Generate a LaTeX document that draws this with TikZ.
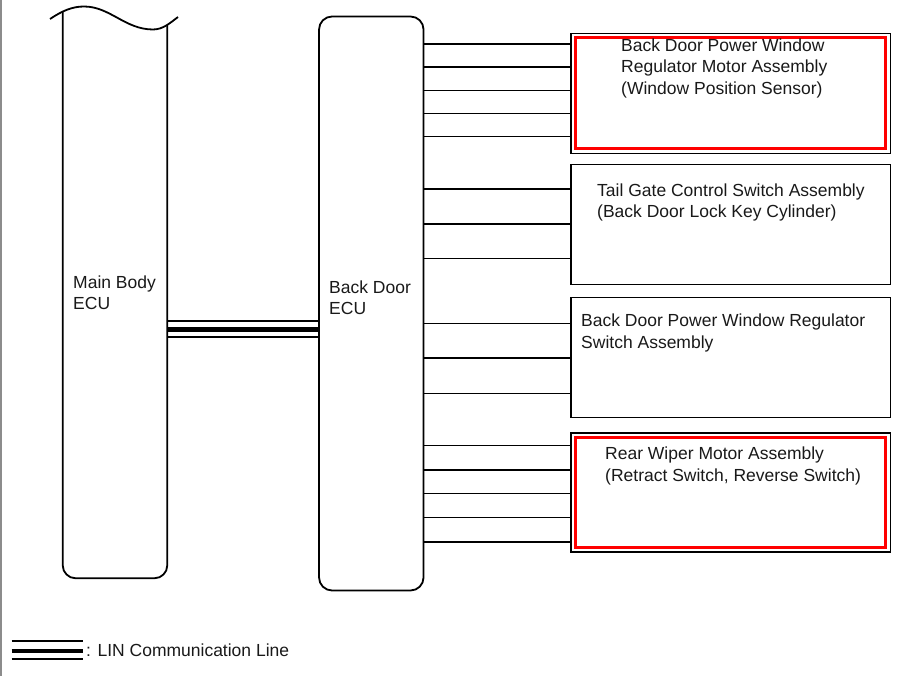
\documentclass[tikz,border=0pt]{standalone}
\usepackage{fontspec}
\setmainfont{Liberation Sans}
\begin{document}
\begin{tikzpicture}[x=1pt, y=-1pt,
    eculine/.style={line width=1.8pt, rounded corners=13pt},
    unitbox/.style={rectangle, draw, line width=1.6pt, outer sep=0pt, minimum width=319.5pt, minimum height=120pt, anchor=north west},
    redframe/.style={draw=red, line width=3pt},
    wire/.style={line width=1.4pt},
    linthin/.style={line width=2pt},
    linthick/.style={line width=4.5pt},
    lbl/.style={inner sep=0pt, align=left, anchor=base west, font=\fontsize{17.5}{21.5}\selectfont, text=black!90}]
    \useasboundingbox (0,0) rectangle (902,676);
    \draw[black!45, line width=1.5pt] (1,0) -- (1,676);
    % main body ecu, cut off at the top
    \coordinate (mbtl) at (62.7,12);
    \coordinate (mbtr) at (167.3,25);
    \coordinate (mbbot) at (115,578.3);
    \draw[line width=1.8pt] (50,19) .. controls (62,11) and (72,6.5) .. (84,6.5)
        .. controls (110,6.5) and (125,29.5) .. (153,29.5)
        .. controls (163,29.5) and (170,23) .. (178,17);
    \draw[eculine] (mbtl) -- (mbtl |- mbbot) -- (mbtr |- mbbot) -- (mbtr);
    \node[lbl] (mbtext) at (73,309.5) {Main Body\\ECU};
    \node[draw, eculine, minimum width=104.5pt, minimum height=574pt, outer sep=0pt] (bdecu) at (371.3,303.5) {};
    \node[lbl] (bdtext) at (329,315) {Back Door\\ECU};
    \draw[linthin] (mbtr |- 0,321) -- (bdecu.west |- 0,321);
    \draw[linthick] (mbtr |- 0,329.7) -- (bdecu.west |- 0,329.7);
    \draw[linthin] (mbtr |- 0,337.3) -- (bdecu.west |- 0,337.3);
    \node[unitbox] (window) at (571,33.5) {};
    \node[unitbox] (tailgate) at (571,164.5) {};
    \node[unitbox] (regsw) at (571,297.5) {};
    \node[unitbox, minimum height=119pt] (wiper) at (571,433) {};
    \draw[redframe] ([shift={(4.8,4.5)}]window.north west) rectangle ([shift={(-4.8,-4.5)}]window.south east);
    \draw[redframe] ([shift={(4.8,4.5)}]wiper.north west) rectangle ([shift={(-4.8,-4.5)}]wiper.south east);
    \foreach \y in {44,67,90.5,113.5,136.5}
        \draw[wire] (bdecu.east |- 0,\y) -- (window.west |- 0,\y);
    \foreach \y in {189,224,258.5}
        \draw[wire] (bdecu.east |- 0,\y) -- (tailgate.west |- 0,\y);
    \foreach \y in {323.3,358,393.3}
        \draw[wire] (bdecu.east |- 0,\y) -- (regsw.west |- 0,\y);
    \foreach \y in {445.7,470,493.3,517.7,542}
        \draw[wire] (bdecu.east |- 0,\y) -- (wiper.west |- 0,\y);
    \node[lbl] (windowtext) at (621,94.5) {Back Door Power Window\\Regulator Motor Assembly\\(Window Position Sensor)};
    \node[lbl] (tailgatetext) at (597,218) {Tail Gate Control Switch Assembly\\(Back Door Lock Key Cylinder)};
    \node[lbl] (regswtext) at (581,348.5) {Back Door Power Window Regulator\\Switch Assembly};
    \node[lbl] (wipertext) at (605,481) {Rear Wiper Motor Assembly\\(Retract Switch, Reverse Switch)};
    % legend
    \coordinate (lega) at (11.7,651);
    \coordinate (legb) at (82.7,651);
    \draw[linthin] ([yshift=-7.5pt]lega) -- ([yshift=-7.5pt]legb);
    \draw[linthick] (lega) -- (legb);
    \draw[linthin] ([yshift=9.7pt]lega) -- ([yshift=9.7pt]legb);
    \node[lbl] (legtext) at (86,656.5) {: LIN Communication Line};
\end{tikzpicture}
\end{document}
